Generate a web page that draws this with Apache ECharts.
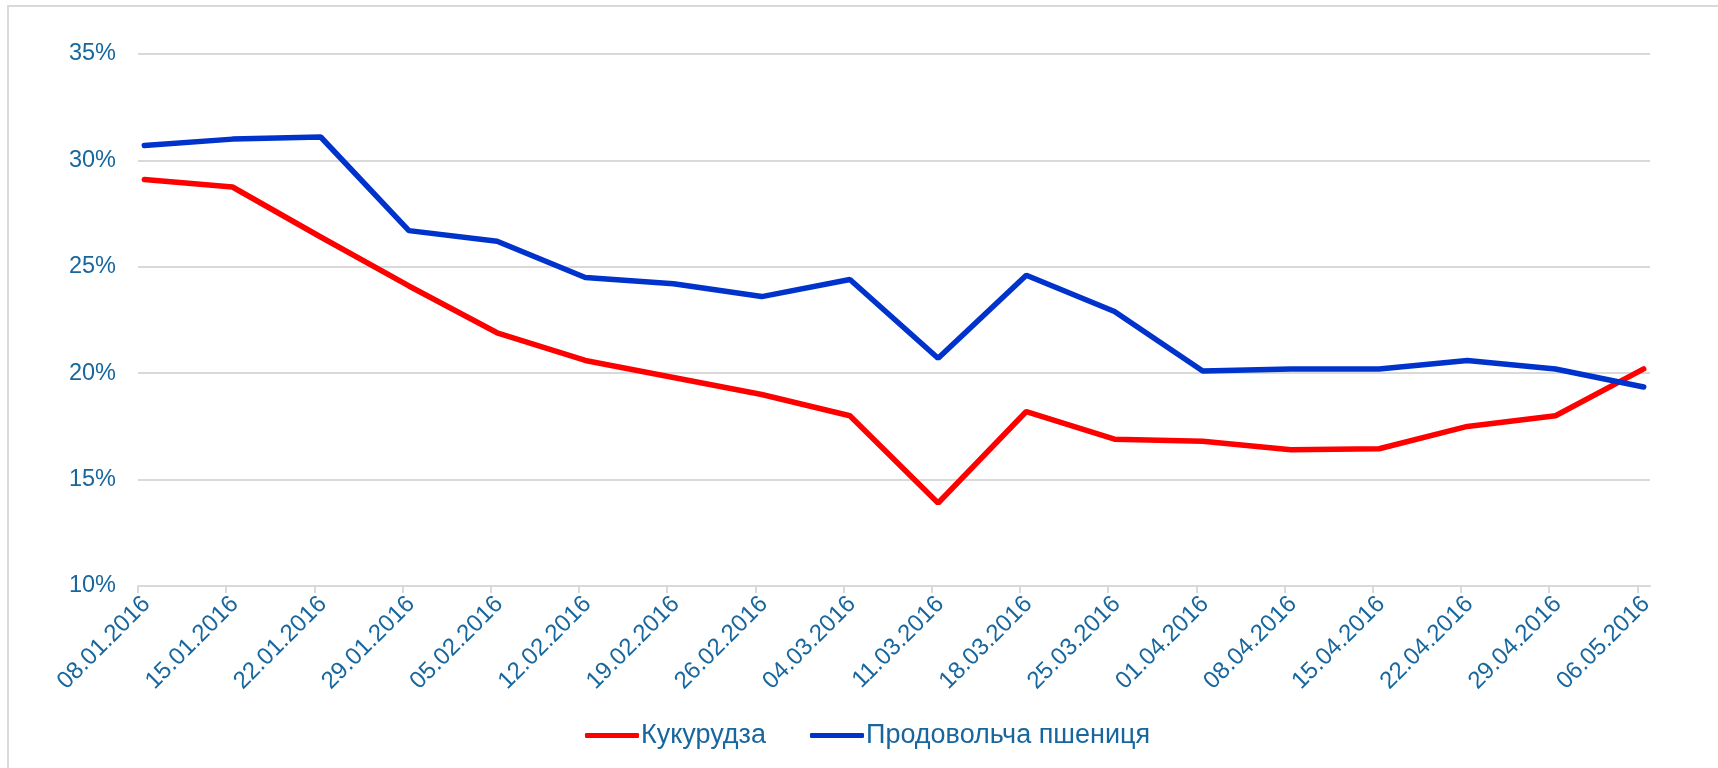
<!DOCTYPE html>
<html>
<head>
<meta charset="utf-8">
<script src="https://cdn.jsdelivr.net/npm/echarts@6/dist/echarts.min.js"></script>
<style>
    html, body { margin: 0; padding: 0; background: #fff; }
    #net-chart { width: 1718px; height: 768px; }
    #frame {
        position: absolute; left: 7px; top: 5px; width: 1800px; height: 900px;
        border-top: 2px solid #d9d9d9; border-left: 2px solid #d9d9d9;
        pointer-events: none;
    }
</style>
</head>
<body>
<div id="net-chart"></div>
<div id="frame"></div>
<script>
    // weekly dates (Excel date axis)
    const dates = ['08.01.2016', '15.01.2016', '22.01.2016', '29.01.2016', '05.02.2016', '12.02.2016',
        '19.02.2016', '26.02.2016', '04.03.2016', '11.03.2016', '18.03.2016', '25.03.2016',
        '01.04.2016', '08.04.2016', '15.04.2016', '22.04.2016', '29.04.2016', '06.05.2016']
    // %
    const corn = [29.1, 28.75, 26.4, 24.1, 21.9, 20.6, 19.8, 19.0, 18.0, 13.9, 18.2, 16.9,
        16.8, 16.4, 16.45, 17.5, 18.0, 20.2]
    const wheat = [30.7, 31.0, 31.1, 26.7, 26.2, 24.5, 24.2, 23.6, 24.4, 20.7, 24.6, 22.9,
        20.1, 20.2, 20.2, 20.6, 20.2, 19.35]
    const yTicks = [10, 15, 20, 25, 30, 35]

    const textColor = '#17669e'
    const gridColor = '#d9d9d9'

    function toDay(s) {
        let p = s.split('.')
        return Date.UTC(+p[2], +p[1] - 1, +p[0]) / 86400000
    }
    let day0 = toDay(dates[0])
    let dayIdx = dates.map(d => toDay(d) - day0)
    // points sit in the middle of their day
    let pts = (vals) => vals.map((v, i) => [dayIdx[i] + 0.5, v])

    let chart = echarts.init(document.getElementById('net-chart'))
    let options = {
        animation: false,
        textStyle: {
            fontFamily: ['Liberation Sans', 'Arial', 'sans-serif'],
        },
        legend: {
            show: true,
            left: 580,
            top: 717,
            icon: 'roundRect',
            itemWidth: 54,
            itemHeight: 5,
            itemGap: 44,
            textStyle: {
                color: textColor,
                fontSize: 27,
                padding: [0, 0, 0, -3]
            },
            data: ['Кукурудза', 'Продовольча пшениця']
        },
        grid: {
            left: 138,
            right: 68,
            top: 54,
            bottom: 182,
            containLabel: false
        },
        xAxis: {
            type: 'value',
            min: 0,
            max: dayIdx[dayIdx.length - 1] + 1,
            splitLine: {
                show: false
            },
            axisLine: {
                lineStyle: {
                    color: gridColor,
                    width: 2
                }
            },
            axisTick: {
                show: true,
                length: 7,
                customValues: dayIdx,
                lineStyle: {
                    color: gridColor,
                    width: 2
                }
            },
            axisLabel: {
                rotate: 45,
                margin: 6,
                verticalAlign: 'top',
                color: textColor,
                fontSize: 24,
                customValues: dayIdx,
                formatter: (value) => {
                    let i = dayIdx.indexOf(Math.round(value))
                    return i >= 0 ? dates[i] : ''
                }
            }
        },
        yAxis: {
            type: 'value',
            min: yTicks[0],
            max: yTicks[yTicks.length - 1],
            interval: yTicks[1] - yTicks[0],
            axisLine: {
                show: false
            },
            axisTick: {
                show: false
            },
            splitLine: {
                lineStyle: {
                    color: gridColor,
                    width: 2
                }
            },
            axisLabel: {
                margin: 22,
                color: textColor,
                fontSize: 23.5,
                formatter: '{value}%'
            }
        },
        series: [
            {
                name: 'Кукурудза',
                type: 'line',
                data: pts(corn),
                symbol: 'none',
                lineStyle: {
                    width: 5.5,
                    color: '#ff0000',
                    cap: 'round'
                },
                itemStyle: {
                    color: '#ff0000'
                }
            },
            {
                name: 'Продовольча пшениця',
                type: 'line',
                data: pts(wheat),
                symbol: 'none',
                lineStyle: {
                    width: 5.5,
                    color: '#0033cc',
                    cap: 'round'
                },
                itemStyle: {
                    color: '#0033cc'
                }
            }
        ]
    }
    chart.setOption(options)
</script>
</body>
</html>
